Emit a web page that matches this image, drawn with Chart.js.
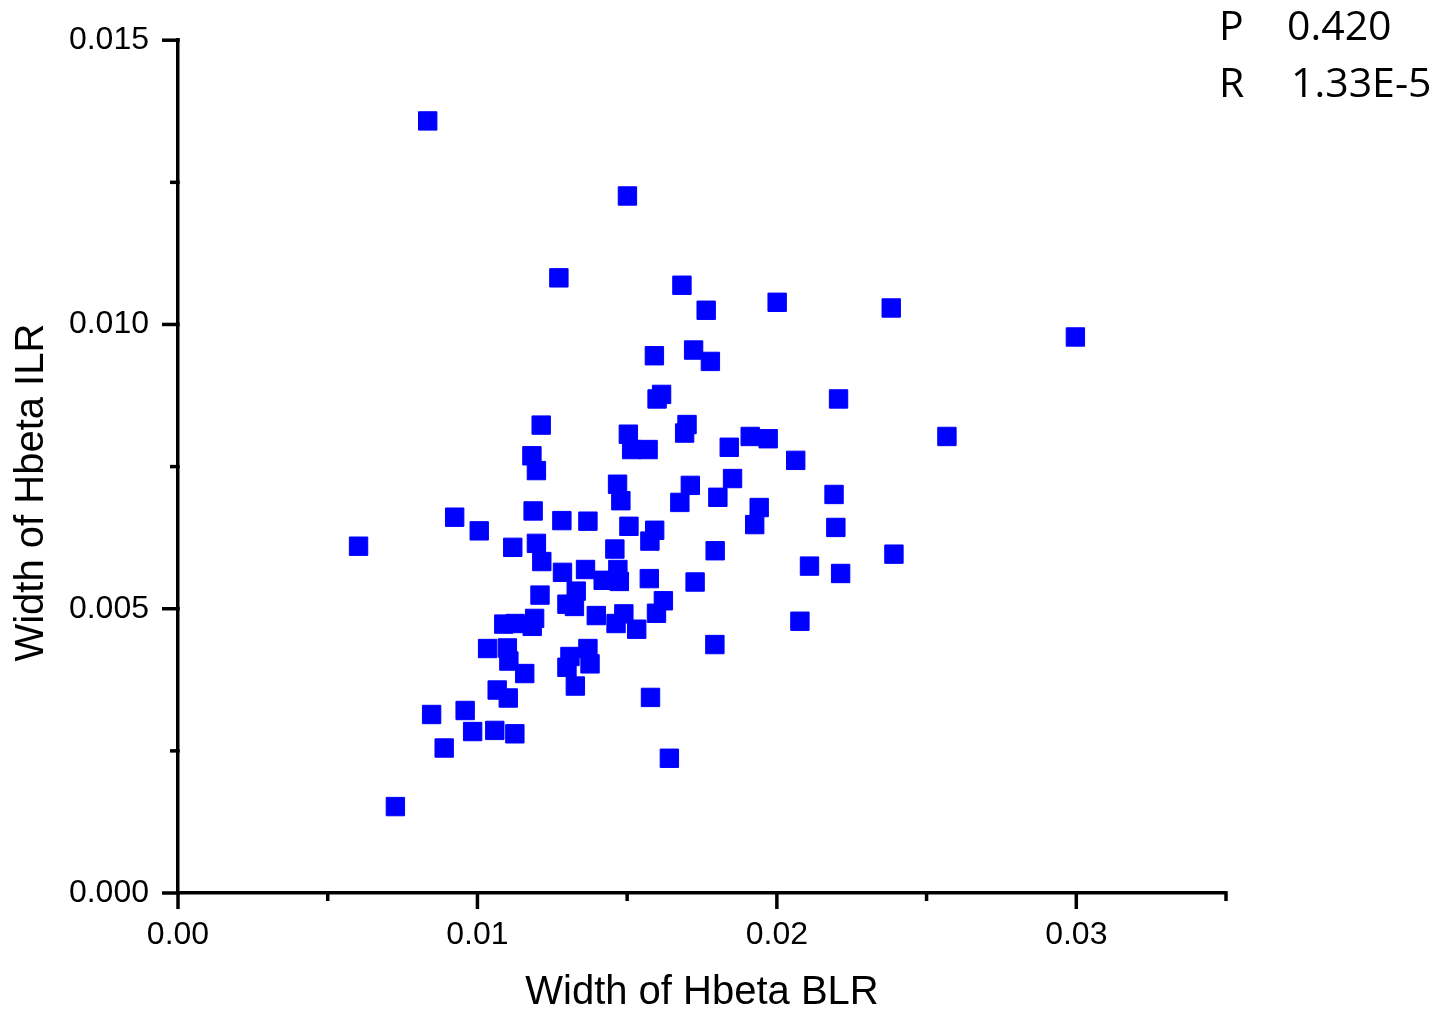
<!DOCTYPE html>
<html><head><meta charset="utf-8">
<script src="https://cdn.jsdelivr.net/npm/chart.js@4.4.1/dist/chart.umd.min.js"></script>
<style>
html,body{margin:0;padding:0;background:#fff;}
#wrap{position:relative;width:1449px;height:1018px;overflow:hidden;}
canvas{display:block;}
.ann{position:absolute;font-family:"Open Sans";font-size:41px;line-height:57px;color:#000;white-space:nowrap;}
</style></head><body>
<div id="wrap"><canvas id="c" width="1449" height="1018"></canvas></div>
<script>
const blrWidth = [
0.00834,0.01501,0.01272,0.01683,0.01764,0.02001,0.02382,0.02997,0.01722,0.01591,
0.01778,0.01615,0.01600,0.02206,0.01213,0.01504,0.01700,0.01692,0.01515,0.01570,
0.01841,0.01911,0.01971,0.02568,0.01182,0.01197,0.02063,0.01468,0.01479,0.01711,
0.01676,0.01852,0.01803,0.01941,0.01926,0.02191,0.02197,0.00924,0.01006,0.01186,
0.01282,0.01369,0.01506,0.01592,0.01576,0.00603,0.01118,0.01197,0.01215,0.01459,
0.01794,0.02391,0.01284,0.01361,0.01420,0.01469,0.01474,0.01574,0.01727,0.02109,
0.02213,0.01330,0.01209,0.01299,0.01324,0.01397,0.01489,0.01463,0.01532,0.01621,
0.01598,0.01088,0.01126,0.01191,0.01183,0.02077,0.01793,0.01034,0.01100,0.01105,
0.01158,0.01309,0.01369,0.01376,0.01299,0.01327,0.01066,0.01103,0.01578,0.00847,
0.00959,0.00984,0.01058,0.01125,0.00889,0.01641,0.00726];
const ilrWidth = [
0.01358,0.01226,0.01082,0.01069,0.01025,0.01039,0.01029,0.00978,0.00955,0.00945,
0.00935,0.00877,0.00869,0.00869,0.00823,0.00807,0.00824,0.00809,0.00780,0.00780,
0.00784,0.00803,0.00799,0.00803,0.00769,0.00743,0.00761,0.00719,0.00690,0.00717,
0.00687,0.00729,0.00696,0.00678,0.00648,0.00701,0.00643,0.00661,0.00637,0.00672,
0.00655,0.00654,0.00645,0.00638,0.00619,0.00610,0.00608,0.00615,0.00583,0.00605,
0.00602,0.00596,0.00564,0.00569,0.00550,0.00569,0.00548,0.00553,0.00547,0.00575,
0.00562,0.00531,0.00524,0.00508,0.00504,0.00488,0.00491,0.00474,0.00464,0.00514,
0.00492,0.00473,0.00474,0.00483,0.00469,0.00478,0.00437,0.00430,0.00431,0.00408,
0.00386,0.00416,0.00430,0.00403,0.00397,0.00364,0.00357,0.00343,0.00344,0.00314,
0.00321,0.00284,0.00286,0.00280,0.00255,0.00237,0.00152];

const xMajorTicks = [0, 0.01, 0.02, 0.03];
const xMinorTicks = [0.005, 0.015, 0.025, 0.035];
const xTickLabels = ['0.00', '0.01', '0.02', '0.03'];
const yMajorTicks = [0, 0.005, 0.010, 0.015];
const yMinorTicks = [0.0025, 0.0075, 0.0125];
const yTickLabels = ['0.000', '0.005', '0.010', '0.015'];
const xTitle = 'Width of Hbeta BLR';
const yTitle = 'Width of Hbeta ILR';
const statNames = ['P', 'R'];
const statValues = ['0.420', '1.33E-5'];

// annotation text (real DOM text)
const wrap = document.getElementById('wrap');
statNames.forEach((n, i) => {
  const a = document.createElement('div');
  a.className = 'ann'; a.style.left = '1219px'; a.style.top = (-4 + i * 57) + 'px';
  a.textContent = n; wrap.appendChild(a);
  const b = document.createElement('div');
  b.className = 'ann'; b.style.left = (i === 0 ? 1287 : 1291) + 'px'; b.style.top = (-4 + i * 57) + 'px';
  b.textContent = statValues[i]; wrap.appendChild(b);
});

const points = blrWidth.map((x, i) => ({x: x, y: ilrWidth[i]}));

const tickFont = {family: 'Liberation Sans', size: 32};

const axisDecor = {
  id: 'axisDecor',
  afterDraw(chart) {
    const ctx = chart.ctx;
    const xs = chart.scales.x, ys = chart.scales.y;
    const ca = chart.chartArea;
    ctx.save();
    ctx.strokeStyle = '#000';
    ctx.lineWidth = 3.5;
    ctx.lineCap = 'butt';
    const bx = ca.bottom, lx = ca.left;
    xMajorTicks.forEach(v => { const p = xs.getPixelForValue(v); ctx.beginPath(); ctx.moveTo(p, bx - 1.75); ctx.lineTo(p, bx + 16); ctx.stroke(); });
    xMinorTicks.forEach(v => { const p = xs.getPixelForValue(v); ctx.beginPath(); ctx.moveTo(p, bx - 1.75); ctx.lineTo(p, bx + 8); ctx.stroke(); });
    yMajorTicks.forEach(v => { const p = ys.getPixelForValue(v); ctx.beginPath(); ctx.moveTo(lx + 1.75, p); ctx.lineTo(lx - 16, p); ctx.stroke(); });
    yMinorTicks.forEach(v => { const p = ys.getPixelForValue(v); ctx.beginPath(); ctx.moveTo(lx + 1.75, p); ctx.lineTo(lx - 8, p); ctx.stroke(); });
    // y axis title
    ctx.fillStyle = '#000';
    ctx.font = '40px "Liberation Sans"';
    ctx.textAlign = 'center';
    ctx.textBaseline = 'middle';
    ctx.translate(32, (ca.top + ca.bottom) / 2 + 26);
    ctx.rotate(-Math.PI / 2);
    ctx.fillText(yTitle, 0, 0);
    ctx.restore();
  }
};

new Chart(document.getElementById('c'), {
  type: 'scatter',
  data: {
    datasets: [{
      data: points,
      pointStyle: 'rect',
      pointRadius: 13,
      pointHoverRadius: 13,
      backgroundColor: '#0000FF',
      borderColor: '#0000FF',
      borderWidth: 1
    }]
  },
  options: {
    responsive: false,
    devicePixelRatio: 1,
    animation: false,
    layout: {padding: {top: 38, right: 223, left: 0, bottom: 0}, autoPadding: false},
    plugins: {legend: {display: false}, tooltip: {enabled: false}},
    scales: {
      x: {
        type: 'linear', min: 0, max: 0.035,
        afterBuildTicks: s => { s.ticks = xMajorTicks.map(v => ({value: v})); },
        afterFit: s => { s.height = 125; },
        grid: {display: false},
        border: {display: true, color: '#000', width: 3.5},
        ticks: {font: tickFont, color: '#000', padding: 15, maxRotation: 0,
          callback: (v, i) => xTickLabels[i]},
        title: {display: true, text: xTitle, color: '#000',
          font: {family: 'Liberation Sans', size: 40}, padding: {top: 0, bottom: 1}}
      },
      y: {
        type: 'linear', min: 0, max: 0.015,
        afterBuildTicks: s => { s.ticks = yMajorTicks.map(v => ({value: v})); },
        afterFit: s => { s.width = 178; },
        grid: {display: false},
        border: {display: true, color: '#000', width: 3.5},
        ticks: {font: tickFont, color: '#000', padding: 21,
          callback: (v, i) => yTickLabels[i]}
      }
    }
  },
  plugins: [axisDecor]
});
</script>
</body></html>
